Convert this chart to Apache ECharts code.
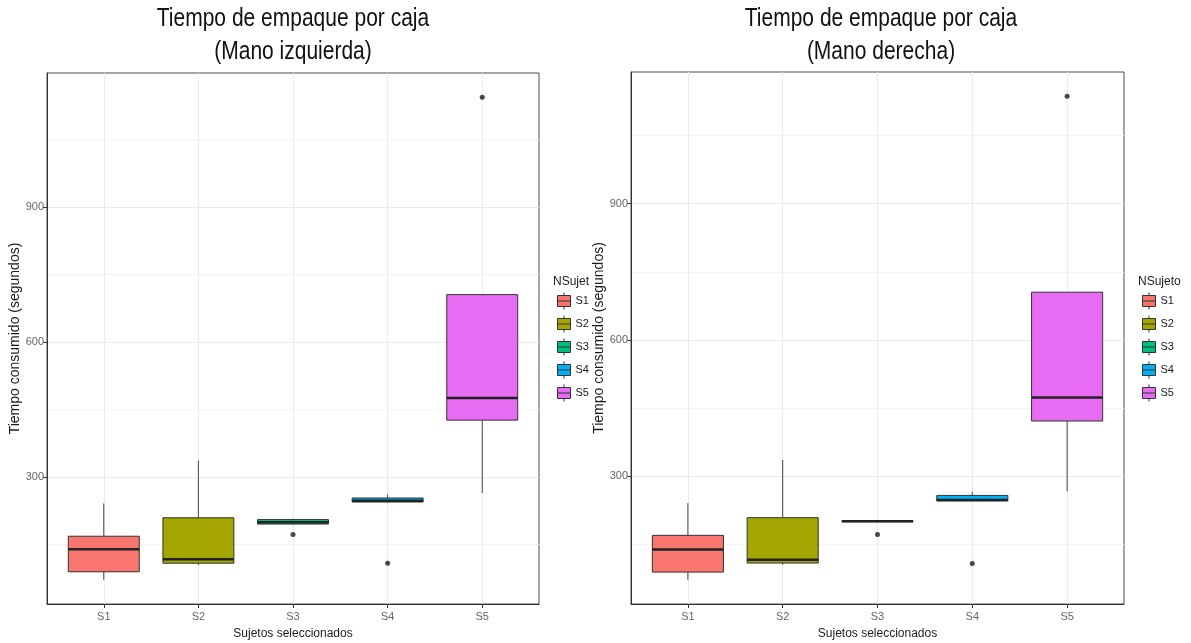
<!DOCTYPE html>
<html>
<head>
<meta charset="utf-8">
<script src="https://cdn.jsdelivr.net/npm/echarts@6/dist/echarts.min.js"></script>
<style>
  html, body { margin: 0; padding: 0; background: #ffffff; }
  #chart { width: 1191px; height: 643px; }
</style>
</head>
<body>
<div id="chart"></div>
<script>
// Subjects on the x axis and their fill colours
const CATEGORIES = ['S1', 'S2', 'S3', 'S4', 'S5'];
const FILLS = ['#F8766D', '#A3A500', '#00BF7D', '#00B0F6', '#E76BF3'];

// Five-number summaries per subject: [lower whisker, Q1, median, Q3, upper whisker] (seconds)
const LEFT_BOXES = [
  [71, 89, 139, 168, 241],
  [104, 108, 117, 209, 336],
  [194, 195, 199, 205, 207],
  [243, 244, 247, 253, 261],
  [264, 426, 475, 705, 705]
];
const RIGHT_BOXES = [
  [71, 88, 138, 169, 240],
  [104, 108, 115, 208, 335],
  [199, 199, 200, 201, 201],
  [245, 245, 247, 257, 265],
  [266, 421, 473, 705, 705]
];

// Outlying observations: [subject, seconds]
const LEFT_OUTLIERS = [['S3', 172], ['S4', 108], ['S5', 1144]];
const RIGHT_OUTLIERS = [['S3', 171], ['S4', 107], ['S5', 1137]];

// Tick values on the time axis
const Y_TICKS = [300, 600, 900];
const Y_MINOR = [150, 450, 750, 1050];

const TITLES = ['Tiempo de empaque por caja\n(Mano izquierda)', 'Tiempo de empaque por caja\n(Mano derecha)'];
const X_TITLE = 'Sujetos seleccionados';
const Y_TITLE = 'Tiempo consumido (segundos)';
const LEGEND_TITLE = 'NSujeto';

const SANS = "'Liberation Sans', Arial, sans-serif";
const INK = '#333333';
const BOX_WIDTH = 0.75;

// Continuous range with 5% padding on both sides of the data, as ggplot does
function paddedRange(boxes, outliers) {
  const vals = [];
  boxes.forEach(b => vals.push(...b));
  outliers.forEach(o => vals.push(o[1]));
  const lo = Math.min(...vals), hi = Math.max(...vals);
  const pad = (hi - lo) * 0.05;
  return [lo - pad, hi + pad];
}

// Box, whiskers and median for one subject
function renderBox(params, api) {
  const x = api.value(0);
  const lo = api.coord([x, api.value(1)]);
  const q1 = api.coord([x, api.value(2)]);
  const md = api.coord([x, api.value(3)]);
  const q3 = api.coord([x, api.value(4)]);
  const hi = api.coord([x, api.value(5)]);
  const half = api.size([BOX_WIDTH, 0])[0] / 2;
  const fill = api.visual('color');
  return {
    type: 'group',
    children: [
      { type: 'line', shape: { x1: lo[0], y1: lo[1], x2: q1[0], y2: q1[1] }, style: { stroke: '#444444', lineWidth: 1 } },
      { type: 'line', shape: { x1: q3[0], y1: q3[1], x2: hi[0], y2: hi[1] }, style: { stroke: '#444444', lineWidth: 1 } },
      { type: 'rect', shape: { x: q3[0] - half, y: q3[1], width: half * 2, height: Math.max(q1[1] - q3[1], 0.5) },
        style: { fill: fill, stroke: INK, lineWidth: 1 } },
      { type: 'line', shape: { x1: md[0] - half, y1: md[1], x2: md[0] + half, y2: md[1] },
        style: { stroke: '#222222', lineWidth: 2.5 } }
    ]
  };
}

// Legend key: small box with median and whisker stubs
const LEGEND_ICON = 'path://M6.5,0 L6.5,3 M0,3 L13,3 L13,14 L0,14 Z M0,8.5 L13,8.5 M6.5,14 L6.5,17';

const panels = [
  { boxes: LEFT_BOXES, outliers: LEFT_OUTLIERS, grid: { left: 47, top: 73, width: 492, height: 531 },
    title: { x: 293 }, legend: { left: 557, titleX: 553, titleWidth: 40 } },
  { boxes: RIGHT_BOXES, outliers: RIGHT_OUTLIERS, grid: { left: 631, top: 72, width: 493, height: 532 },
    title: { x: 881 }, legend: { left: 1142, titleX: 1138, titleWidth: 60 } }
];

const option = {
  animation: false,
  backgroundColor: '#ffffff',
  grid: [], xAxis: [], yAxis: [], series: [], legend: [], graphic: []
};

panels.forEach((p, i) => {
  const range = paddedRange(p.boxes, p.outliers);
  option.grid.push(Object.assign({
    show: true, borderColor: '#4d4d4d', borderWidth: 1, backgroundColor: 'transparent',
    containLabel: false, outerBoundsMode: 'none'
  }, p.grid));

  option.xAxis.push({
    type: 'value', gridIndex: i, min: 0.4, max: 5.6,
    name: X_TITLE, nameLocation: 'middle', nameGap: 24,
    nameTextStyle: { fontFamily: SANS, fontSize: 12, color: '#1a1a1a' },
    axisLine: { show: true, lineStyle: { color: INK, width: 1 } },
    axisTick: { show: true, length: 4, customValues: [1, 2, 3, 4, 5], lineStyle: { color: INK } },
    axisLabel: { customValues: [1, 2, 3, 4, 5], margin: 7, fontFamily: SANS, fontSize: 11, color: '#666666',
      formatter: v => CATEGORIES[Math.round(v) - 1] },
    splitLine: { show: true, lineStyle: { color: '#ebebeb', width: 1 } }
  });

  // major grid, ticks and labels
  option.yAxis.push({
    type: 'value', gridIndex: i, min: range[0], max: range[1],
    name: Y_TITLE, nameLocation: 'middle', nameGap: 20,
    nameTextStyle: { fontFamily: SANS, fontSize: 14, color: '#1a1a1a' },
    axisLine: { show: true, lineStyle: { color: INK, width: 1 } },
    axisTick: { show: true, length: 4, customValues: Y_TICKS, lineStyle: { color: INK } },
    axisLabel: { customValues: Y_TICKS, margin: 3, fontFamily: SANS, fontSize: 11, color: '#666666' },
    splitLine: { show: true, lineStyle: { color: '#ebebeb', width: 1 } }
  });
  // minor grid lines only
  option.yAxis.push({
    type: 'value', gridIndex: i, min: range[0], max: range[1], position: 'left',
    axisLine: { show: false },
    axisTick: { show: false, customValues: Y_MINOR },
    axisLabel: { show: false, customValues: Y_MINOR },
    splitLine: { show: true, lineStyle: { color: '#f3f3f3', width: 1 } }
  });

  const xIdx = i, yIdx = i * 2;
  CATEGORIES.forEach((cat, k) => {
    option.series.push({
      type: 'custom', name: cat, xAxisIndex: xIdx, yAxisIndex: yIdx,
      itemStyle: { color: FILLS[k], borderColor: INK, borderWidth: 1 },
      encode: { x: 0, y: [1, 2, 3, 4, 5] },
      renderItem: renderBox,
      data: [[k + 1].concat(p.boxes[k])],
      z: 3
    });
  });
  option.series.push({
    type: 'scatter', name: 'atípicos', xAxisIndex: xIdx, yAxisIndex: yIdx,
    symbolSize: 5, itemStyle: { color: '#1a1a1a' },
    data: p.outliers.map(o => [CATEGORIES.indexOf(o[0]) + 1, o[1]]),
    z: 4
  });

  option.legend.push({
    data: CATEGORIES, orient: 'vertical', left: p.legend.left, top: 292, padding: 0,
    itemWidth: 13, itemHeight: 17, itemGap: 5, icon: LEGEND_ICON, selectedMode: false,
    itemStyle: { borderColor: INK, borderWidth: 1 },
    textStyle: { fontFamily: SANS, fontSize: 11, color: '#1a1a1a' }
  });

  option.graphic.push({
    type: 'text', x: p.title.x, y: 3, scaleY: 1.2,
    style: { text: TITLES[i], fontFamily: SANS, fontSize: 21, lineHeight: 27, fill: '#111111',
      align: 'center', verticalAlign: 'top' }
  });
  option.graphic.push({
    type: 'text', x: p.legend.titleX, y: 276,
    style: { text: LEGEND_TITLE, fontFamily: SANS, fontSize: 12, fill: '#1a1a1a',
      width: p.legend.titleWidth, overflow: 'truncate', ellipsis: '', verticalAlign: 'top' }
  });
});

const chart = echarts.init(document.getElementById('chart'), null, { renderer: 'canvas' });
chart.setOption(option);
</script>
</body>
</html>
